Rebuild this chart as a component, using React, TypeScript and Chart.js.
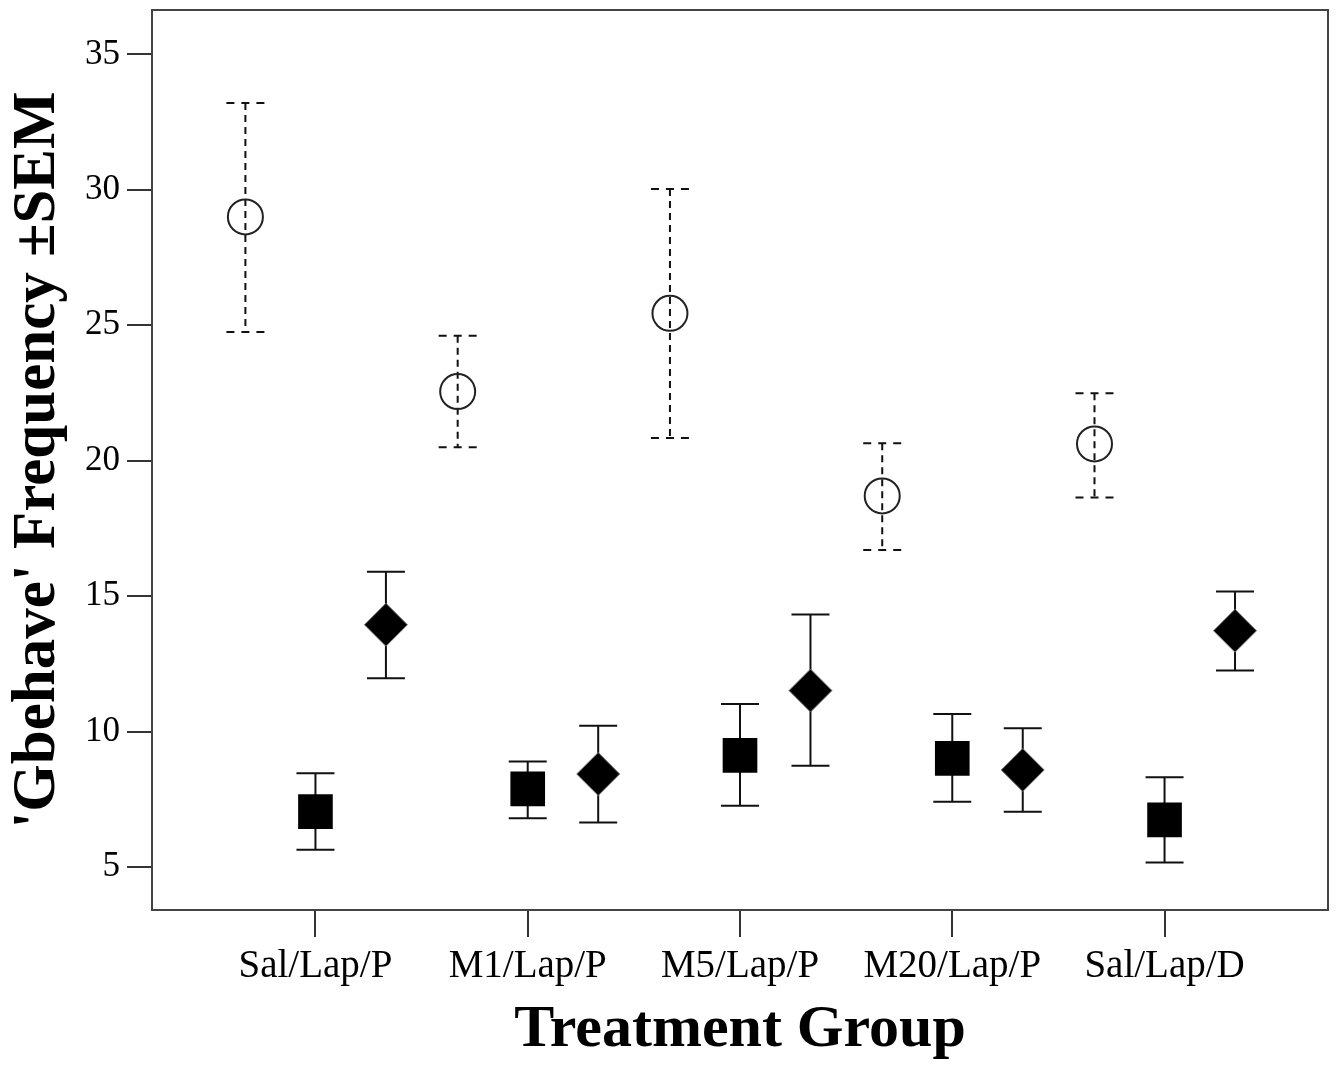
import React, { useEffect, useRef } from 'react';
import { Chart, registerables } from 'chart.js';

Chart.register(...registerables);

const categories = ['Sal/Lap/P', 'M1/Lap/P', 'M5/Lap/P', 'M20/Lap/P', 'Sal/Lap/D'];
const yTickValues = [5, 10, 15, 20, 25, 30, 35];

const circleMean = [29.0, 22.55, 25.44, 18.7, 20.62];
const circleUpper = [33.21, 24.61, 30.03, 20.64, 22.49];
const circleLower = [24.75, 20.5, 20.84, 16.7, 18.64];

const squareMean = [7.04, 7.88, 9.12, 9.01, 6.74];
const squareUpper = [8.46, 8.89, 11.02, 10.65, 8.31];
const squareLower = [5.63, 6.8, 7.26, 7.41, 5.16];

const diamondMean = [13.94, 8.43, 11.51, 8.58, 13.72];
const diamondUpper = [15.9, 10.21, 14.32, 10.12, 15.17];
const diamondLower = [11.97, 6.64, 8.74, 7.04, 12.25];

const circleOffset = -0.33;
const squareOffset = 0;
const diamondOffset = 0.332;

const FONT = "'Liberation Serif', 'Times New Roman', serif";

const errorBars = [
  { upper: circleUpper, lower: circleLower, dashed: true },
  { upper: squareUpper, lower: squareLower, dashed: false },
  { upper: diamondUpper, lower: diamondLower, dashed: false },
];

const toPoints = (vals: number[], off: number) => vals.map((v, i) => ({ x: i + 1 + off, y: v }));

const zeroPadding = (axis: any) => {
  axis.paddingTop = 0;
  axis.paddingBottom = 0;
  axis.paddingLeft = 0;
  axis.paddingRight = 0;
};

const errorBarPlugin = {
  id: 'errorBars',
  beforeDatasetsDraw(chart: any) {
    const ctx = chart.ctx;
    const yScale = chart.scales.y;
    ctx.save();
    errorBars.forEach((eb, di) => {
      const meta = chart.getDatasetMeta(di);
      meta.data.forEach((pt: any, i: number) => {
        const x = pt.x;
        const yU = yScale.getPixelForValue(eb.upper[i]);
        const yL = yScale.getPixelForValue(eb.lower[i]);
        const half = 19;
        ctx.strokeStyle = '#111';
        ctx.lineWidth = 2;
        if (eb.dashed) {
          ctx.setLineDash([7, 5]);
          ctx.beginPath();
          ctx.moveTo(x, yU);
          ctx.lineTo(x, yL);
          ctx.stroke();
          ctx.setLineDash([8, 7]);
          ctx.beginPath();
          ctx.moveTo(x - half, yU);
          ctx.lineTo(x + half, yU);
          ctx.moveTo(x - half, yL);
          ctx.lineTo(x + half, yL);
          ctx.stroke();
          ctx.setLineDash([]);
        } else {
          ctx.setLineDash([]);
          ctx.beginPath();
          ctx.moveTo(x, yU);
          ctx.lineTo(x, yL);
          ctx.moveTo(x - half, yU);
          ctx.lineTo(x + half, yU);
          ctx.moveTo(x - half, yL);
          ctx.lineTo(x + half, yL);
          ctx.stroke();
        }
      });
    });
    ctx.restore();
  },
  afterDatasetsDraw(chart: any) {
    const { ctx, chartArea } = chart;
    ctx.save();
    ctx.strokeStyle = '#444';
    ctx.lineWidth = 2;
    ctx.strokeRect(chartArea.left, chartArea.top, chartArea.right - chartArea.left, chartArea.bottom - chartArea.top);
    ctx.restore();
  },
};

export default function App() {
  const canvasRef = useRef<HTMLCanvasElement | null>(null);

  useEffect(() => {
    document.body.style.margin = '0';
    const canvas = canvasRef.current;
    if (!canvas) return;
    const chart = new Chart(canvas, {
      type: 'scatter',
      data: {
        datasets: [
          {
            label: 'circles',
            data: toPoints(circleMean, circleOffset),
            pointStyle: 'circle',
            pointRadius: 17.5,
            pointBorderWidth: 2,
            pointBorderColor: '#222',
            pointBackgroundColor: 'rgba(0,0,0,0)',
            showLine: false,
          },
          {
            label: 'squares',
            data: toPoints(squareMean, squareOffset),
            pointStyle: 'rect',
            pointRadius: 24.5,
            pointBorderWidth: 0,
            pointBorderColor: '#000',
            pointBackgroundColor: '#000',
            showLine: false,
          },
          {
            label: 'diamonds',
            data: toPoints(diamondMean, diamondOffset),
            pointStyle: 'rectRot',
            pointRadius: 21.5,
            pointBorderWidth: 1,
            pointBorderColor: '#777',
            pointBackgroundColor: '#000',
            showLine: false,
          },
        ],
      },
      options: {
        responsive: false,
        animation: false,
        devicePixelRatio: 1,
        layout: { autoPadding: false, padding: { left: 0, top: 10, right: 9, bottom: 0 } },
        plugins: {
          legend: { display: false },
          tooltip: { enabled: false },
        },
        scales: {
          x: {
            type: 'linear',
            min: 0.23,
            max: 5.77,
            afterBuildTicks: (axis: any) => {
              axis.ticks = categories.map((_, i) => ({ value: i + 1 }));
            },
            afterFit: (axis: any) => {
              axis.height = 158;
              zeroPadding(axis);
            },
            border: { display: false },
            grid: {
              drawOnChartArea: false,
              drawTicks: true,
              tickLength: 27,
              color: '#333',
              lineWidth: 2,
            },
            ticks: {
              autoSkip: false,
              maxRotation: 0,
              padding: 6,
              color: '#000',
              font: { family: FONT, size: 39 },
              callback: (_v: any, i: number) => categories[i],
            },
            title: {
              display: true,
              text: 'Treatment Group',
              color: '#000',
              font: { family: FONT, size: 60, weight: 'bold' },
              padding: { top: 0, bottom: 2 },
            },
          },
          y: {
            type: 'linear',
            min: 3.41,
            max: 36.64,
            afterBuildTicks: (axis: any) => {
              axis.ticks = yTickValues.map((v) => ({ value: v }));
            },
            afterFit: (axis: any) => {
              axis.width = 152;
              zeroPadding(axis);
            },
            border: { display: false },
            grid: {
              drawOnChartArea: false,
              drawTicks: true,
              tickLength: 25,
              color: '#333',
              lineWidth: 2,
            },
            ticks: {
              padding: 7,
              color: '#000',
              font: { family: FONT, size: 35 },
              callback: (v: any) => String(v),
            },
            title: {
              display: true,
              text: "'Gbehave' Frequency \u00B1SEM",
              color: '#000',
              font: { family: FONT, size: 61, weight: 'bold' },
              padding: { top: 2, bottom: 0 },
            },
          },
        },
      },
      plugins: [errorBarPlugin],
    } as any);
    return () => chart.destroy();
  }, []);

  return (
    <div style={{ position: 'absolute', left: 0, top: 0, width: 1337, height: 1068, background: '#fff' }}>
      <canvas ref={canvasRef} width={1337} height={1068} style={{ display: 'block' }} />
    </div>
  );
}
